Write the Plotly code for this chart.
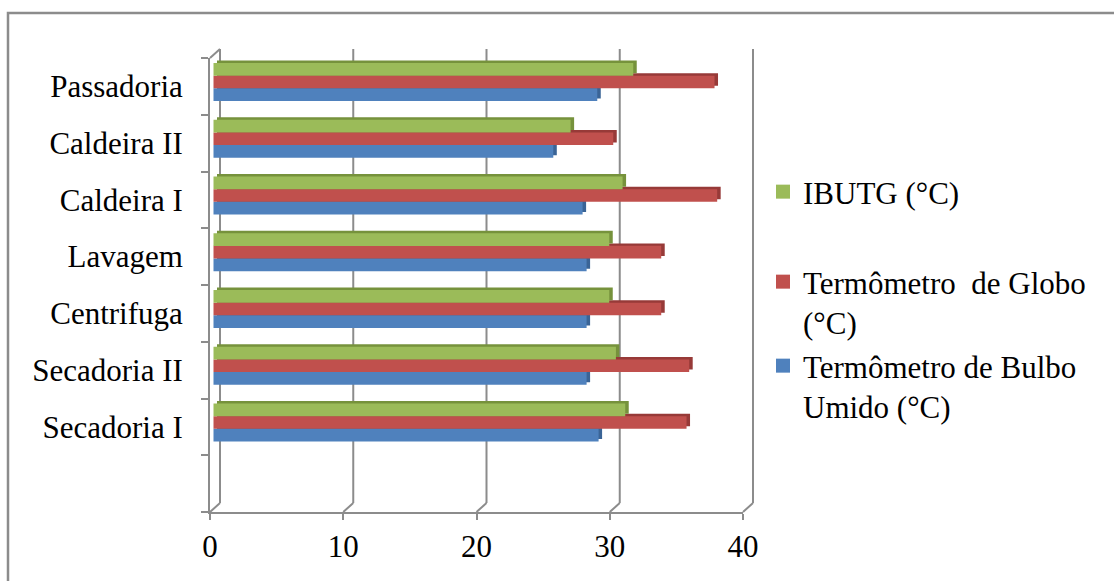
import plotly.graph_objects as go

# ---- data (bottom category first) ----
categories = ["Secadoria I", "Secadoria II", "Centrifuga", "Lavagem",
              "Caldeira I", "Caldeira II", "Passadoria"]
bulbo_umido = [28.9, 28.0, 28.0, 28.0, 27.7, 25.5, 28.8]   # Termômetro de Bulbo Umido (°C)
globo = [35.5, 35.7, 33.6, 33.6, 37.8, 30.0, 37.6]         # Termômetro de Globo (°C)
ibutg = [30.9, 30.2, 29.7, 29.7, 30.7, 26.8, 31.5]         # IBUTG (°C)
x_ticks = [0, 10, 20, 30, 40]

names = {
    "ibutg": "IBUTG (°C)",
    "globo": "Termômetro\u00a0 de Globo<br>(°C)",
    "bulbo": "Termômetro de Bulbo<br>Umido (°C)",
}

# ---- page geometry (pixels) ----
W, H = 1114, 581
FRONT_L, FRONT_R = 210, 743      # front plane: value 0 and value 40
FRONT_T, FRONT_B = 58, 512
DEPTH_X, DEPTH_Y = 10, 9         # offset of the back wall
N_SLOTS = len(categories) + 1    # one empty slot under the first category
X_MAX = 40
PAD = 4

px_x = (FRONT_R - FRONT_L) / X_MAX
px_y = (FRONT_B - FRONT_T) / N_SLOTS


def fx(px):
    return px / W


def fy(py):
    return 1 - py / H


FONT = "Liberation Serif, Times New Roman, serif"
GRAY = "#8c8c8c"

fig = go.Figure()

# ---- back wall and floor edges (subplot x/y) ----
dxa = DEPTH_X / px_x
dya = DEPTH_Y / px_y
fx_pts, fy_pts = [], []
for v in x_ticks:
    fx_pts += [v + dxa, v + dxa, None]
    fy_pts += [-0.5 + dya, N_SLOTS - 0.5 + dya, None]
    fx_pts += [v, v + dxa, None]
    fy_pts += [-0.5, -0.5 + dya, None]
fx_pts += [0, dxa, None]
fy_pts += [N_SLOTS - 0.5, N_SLOTS - 0.5 + dya, None]
fig.add_trace(go.Scatter(x=fx_pts, y=fy_pts, mode="lines",
                         line=dict(color=GRAY, width=2),
                         hoverinfo="skip", showlegend=False,
                         xaxis="x", yaxis="y"))

# ---- 3D-looking bars (subplot x2/y2) ----
BAR_PX, SHIFT_PX, START_PX = 12.7, 4.4, 3.5
SIDE_X, SIDE_Y = 3.5, 2.5
bar_w = BAR_PX / px_y
shift = SHIFT_PX / px_y
b0 = START_PX / px_x
ddx = SIDE_X / px_x
ddy = SIDE_Y / px_y

series = [
    (bulbo_umido, names["bulbo"], "#4F81BD", "#3A6496", -1, "legend3"),
    (globo, names["globo"], "#C0504D", "#973A38", 0, "legend2"),
    (ibutg, names["ibutg"], "#9BBB59", "#76923C", 1, "legend"),
]
for vals, name, col, dark, k, leg in series:
    ys = [i + 1 + shift + k * bar_w for i in range(len(categories))]
    # top and end faces, then the front face
    fig.add_trace(go.Bar(x=vals, y=[y + ddy for y in ys], base=b0 + ddx,
                         orientation="h", width=bar_w,
                         marker=dict(color=dark, line=dict(width=0)),
                         showlegend=False, hoverinfo="skip",
                         xaxis="x2", yaxis="y2"))
    fig.add_trace(go.Bar(x=vals, y=ys, base=b0, orientation="h", width=bar_w,
                         marker=dict(color=col, line=dict(width=0)),
                         name=name, showlegend=False,
                         xaxis="x2", yaxis="y2"))
    # legend key: square swatch
    fig.add_trace(go.Scatter(x=[None], y=[None], mode="markers", name=name,
                             marker=dict(symbol="square", size=14, color=col),
                             legend=leg, xaxis="x2", yaxis="y2"))

# ---- legends ----
LEG_X = 763
leg_common = dict(xanchor="left", yanchor="top", valign="top",
                  bgcolor="rgba(0,0,0,0)", font=dict(family=FONT, size=31, color="black"),
                  itemclick=False, itemdoubleclick=False)
legend_tops = {"legend": 165, "legend2": 255, "legend3": 339}

fig.update_layout(
    width=W, height=H,
    margin=dict(l=0, r=0, t=0, b=0, autoexpand=False),
    paper_bgcolor="white", plot_bgcolor="rgba(0,0,0,0)",
    barmode="overlay",
    font=dict(family=FONT, size=31, color="black"),
    xaxis=dict(domain=[fx(FRONT_L - PAD), fx(FRONT_R + DEPTH_X + PAD)],
               range=[-PAD / px_x, X_MAX + (DEPTH_X + PAD) / px_x],
               visible=False, fixedrange=True),
    yaxis=dict(domain=[fy(FRONT_B + PAD), fy(FRONT_T - DEPTH_Y - PAD)],
               range=[-0.5 - PAD / px_y, N_SLOTS - 0.5 + (DEPTH_Y + PAD) / px_y],
               visible=False, fixedrange=True),
    xaxis2=dict(domain=[fx(FRONT_L), fx(FRONT_R)], range=[0, X_MAX], anchor="y2",
                tickvals=x_ticks, ticks="outside", ticklen=6, tickwidth=2, tickcolor=GRAY,
                showline=True, linecolor=GRAY, linewidth=2,
                showgrid=False, zeroline=False, fixedrange=True,
                tickfont=dict(family=FONT, size=31, color="black")),
    yaxis2=dict(domain=[fy(FRONT_B), fy(FRONT_T)], range=[-0.5, N_SLOTS - 0.5], anchor="x2",
                tickvals=list(range(1, len(categories) + 1)), ticktext=categories,
                ticks="outside", ticklen=19, tickcolor="rgba(0,0,0,0)",
                minor=dict(tick0=-0.5, dtick=1, ticks="outside", ticklen=7,
                           tickwidth=2, tickcolor=GRAY),
                showline=True, linecolor=GRAY, linewidth=2,
                showgrid=False, zeroline=False, fixedrange=True,
                tickfont=dict(family=FONT, size=31, color="black")),
    shapes=[dict(type="rect", xref="paper", yref="paper",
                 x0=fx(8), x1=1.05, y0=-0.05, y1=fy(13),
                 line=dict(color=GRAY, width=2.5), fillcolor="rgba(0,0,0,0)",
                 layer="below")],
)
for key, top in legend_tops.items():
    fig.update_layout({key: dict(x=fx(LEG_X), y=fy(top), **leg_common)})

fig.write_html("out.html")
